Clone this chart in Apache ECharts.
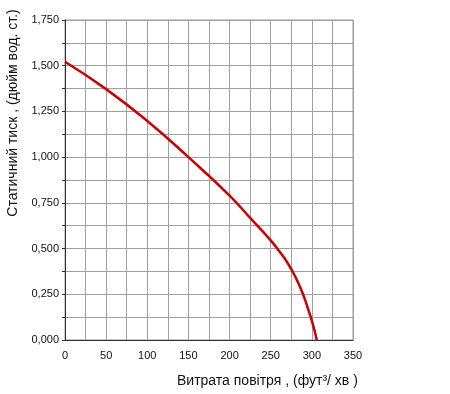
<!DOCTYPE html>
<html><head><meta charset="utf-8">
<script src="https://cdn.jsdelivr.net/npm/echarts@6/dist/echarts.min.js"></script>
<style>html,body{margin:0;padding:0;background:#fff}#c{width:450px;height:394px}</style>
</head><body><div id="c"></div>
<script>
var flow = [0, 50, 100, 150, 200, 225, 250, 260, 270, 280, 288, 295, 301, 306];
var pressure = [1.522, 1.372, 1.198, 1.000, 0.790, 0.668, 0.545, 0.488, 0.425, 0.345, 0.265, 0.175, 0.090, 0.0];
var xTitle = 'Витрата повітря , (фут³/ хв )';
var yTitle = 'Статичний тиск , (дюйм вод. ст.)';

var chart = echarts.init(document.getElementById('c'));
var font = '"Liberation Sans", Arial, sans-serif';
chart.setOption({
  animation: false,
  grid: {left: 65, right: 97, top: 20, bottom: 54, show: true, borderColor: '#999', borderWidth: 1},
  xAxis: {
    type: 'value', min: 0, max: 350, interval: 25,
    axisLine: {show: true, onZero: false, lineStyle: {color: '#333', width: 1}},
    axisTick: {show: false},
    splitLine: {show: true, lineStyle: {color: '#a0a0a0', width: 1}},
    axisLabel: {color: '#111', fontSize: 11, fontFamily: font, margin: 10,
      formatter: function (v) { return (Math.round(v) % 50 === 0) ? String(v) : ''; }}
  },
  yAxis: {
    type: 'value', min: 0, max: 1.75, interval: 0.125,
    axisLine: {show: true, lineStyle: {color: '#333', width: 1}},
    axisTick: {show: true, length: 3, lineStyle: {color: '#333'}},
    splitLine: {show: true, lineStyle: {color: '#a0a0a0', width: 1}},
    axisLabel: {color: '#111', fontSize: 11, fontFamily: font, margin: 6,
      formatter: function (v) {
        if (Math.round(v * 8) % 2 !== 0) return '';
        return v.toFixed(3).replace('.', ',');
      }}
  },
  series: [{
    type: 'line', smooth: 0.5, symbol: 'none',
    data: flow.map(function (x, i) { return [x, pressure[i]]; }),
    lineStyle: {color: '#cc0000', width: 2.5}
  }],
  graphic: [
    {type: 'text', left: 177, top: 374, style: {text: xTitle, fontSize: 14, fontFamily: font, fill: '#111'}},
    {type: 'text', x: 13, y: 113, rotation: Math.PI / 2,
      style: {text: yTitle, fontSize: 14, fontFamily: font, fill: '#111', align: 'center', verticalAlign: 'middle'}}
  ]
});
</script></body></html>
